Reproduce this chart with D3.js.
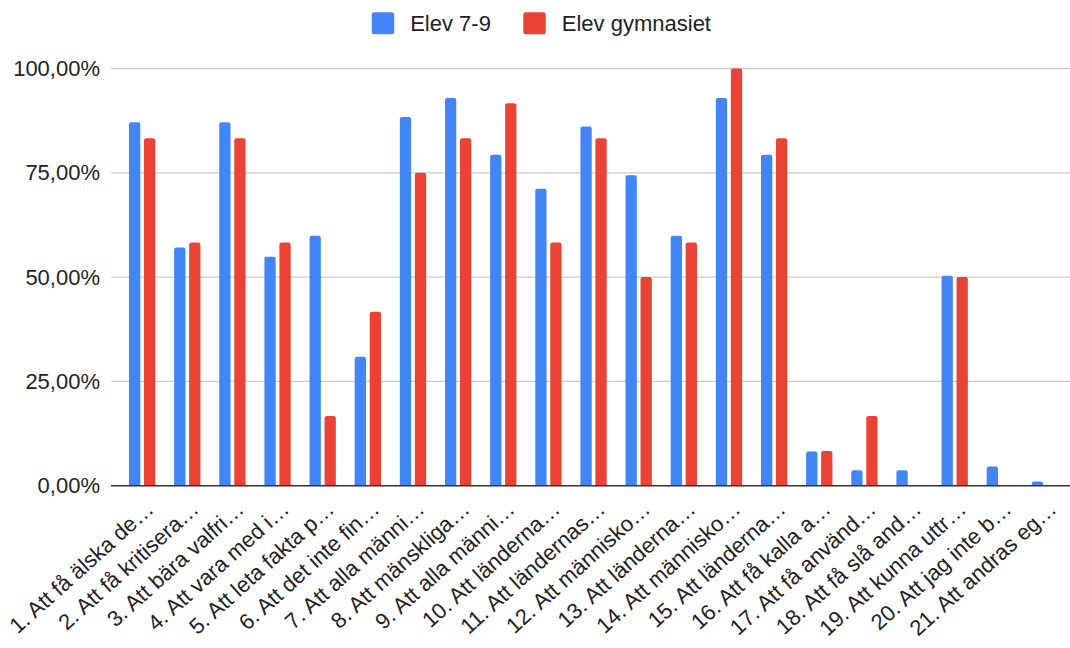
<!DOCTYPE html>
<html>
<head>
<meta charset="utf-8">
<script src="https://cdn.jsdelivr.net/npm/d3@7"></script>
<style>
  html, body { margin: 0; padding: 0; background: #fff; }
  svg { display: block; font-family: "Liberation Sans", Arial, Helvetica, sans-serif; }
</style>
</head>
<body>
<svg id="chart" width="1070" height="648"></svg>
<script>
const categories = [
  "1. Att få älska de…",
  "2. Att få kritisera…",
  "3. Att bära valfri…",
  "4. Att vara med i…",
  "5. Att leta fakta p…",
  "6. Att det inte fin…",
  "7. Att alla männi…",
  "8. Att mänskliga…",
  "9. Att alla männi…",
  "10. Att länderna…",
  "11. Att ländernas…",
  "12. Att människo…",
  "13. Att länderna…",
  "14. Att människo…",
  "15. Att länderna…",
  "16. Att få kalla a…",
  "17. Att få använd…",
  "18. Att få slå and…",
  "19. Att kunna uttr…",
  "20. Att jag inte b…",
  "21. Att andras eg…"
];
const seriesNames = ["Elev 7-9", "Elev gymnasiet"];
const elev79 = [87.1, 57.1, 87.1, 54.9, 59.9, 30.9, 88.4, 92.9, 79.3, 71.2, 86.1, 74.4, 59.9, 92.9, 79.3, 8.2, 3.7, 3.7, 50.3, 4.6, 1.0];
const elevGymnasiet = [83.3, 58.3, 83.3, 58.3, 16.7, 41.7, 75.0, 83.3, 91.7, 58.3, 83.3, 50.0, 58.3, 100.0, 83.3, 8.3, 16.7, 0, 50.0, 0, 0];
const yTicks = [0, 25, 50, 75, 100];
const colors = ["#4285F4", "#EA4335"];

const svg = d3.select("#chart");
const plotLeft = 111, plotRight = 1070;

const x = d3.scaleBand().domain(categories.map((d, i) => i)).range([119.5, 1067.5]);
const y = d3.scaleLinear().domain([0, 100]).range([485.7, 68.5]);

// gridlines
svg.append("g").selectAll("line").data(yTicks.filter(t => t !== 0)).join("line")
  .attr("x1", plotLeft).attr("x2", plotRight)
  .attr("y1", d => y(d)).attr("y2", d => y(d))
  .attr("stroke", "#cccccc").attr("stroke-width", 1.3);

// y labels
const fmt = v => d3.format(".2f")(v).replace(".", ",") + "%";
const yAxis = d3.axisLeft(y).tickValues(yTicks).tickFormat(fmt).tickSize(0).tickPadding(0);
const yg = svg.append("g").attr("transform", "translate(100,0)").call(yAxis);
yg.select(".domain").remove();
yg.selectAll("text").attr("font-size", 22).attr("fill", "#222").attr("font-family", "Liberation Sans, Arial, sans-serif");

// bars
const barW = 11.3;
const offsets = [-13.1, 1.9];
const series = [elev79, elevGymnasiet];
function barPath(x0, y0, w, h, r) {
  if (h <= 0) return "";
  r = Math.min(r, h, w / 2);
  return `M${x0},${y0 + h}V${y0 + r}Q${x0},${y0} ${x0 + r},${y0}H${x0 + w - r}Q${x0 + w},${y0} ${x0 + w},${y0 + r}V${y0 + h}Z`;
}
series.forEach((vals, s) => {
  svg.append("g").selectAll("path").data(vals).join("path")
    .attr("d", (v, i) => {
      const c = x(i) + x.bandwidth() / 2;
      const top = y(v);
      return barPath(c + offsets[s], top, barW, y(0) - top, 2.2);
    })
    .attr("fill", colors[s]);
});

// baseline axis
svg.append("line").attr("x1", plotLeft).attr("x2", plotRight)
  .attr("y1", y(0)).attr("y2", y(0)).attr("stroke", "#333").attr("stroke-width", 1.6);

// x labels
const xAxis = d3.axisBottom(x).tickFormat(i => categories[i]).tickSize(0).tickPadding(0);
const xg = svg.append("g").call(xAxis);
xg.select(".domain").remove();
xg.selectAll(".tick").attr("transform", i => `translate(${x(i) + x.bandwidth() / 2 + 13},511)`);
xg.selectAll("text")
  .attr("x", 0).attr("y", 0).attr("dy", 0)
  .attr("text-anchor", "end")
  .attr("transform", "rotate(-42)")
  .attr("font-size", 22).attr("fill", "#222")
  .attr("font-family", "Liberation Sans, Arial, sans-serif");

// legend
const legend = svg.append("g");
const legendItems = [{name: seriesNames[0], x: 371.7}, {name: seriesNames[1], x: 523.3}];
legendItems.forEach((it, i) => {
  legend.append("rect").attr("x", it.x).attr("y", 12.3).attr("width", 22.5).attr("height", 22)
    .attr("rx", 2.5).attr("fill", colors[i]);
  legend.append("text").attr("x", it.x + 38.5).attr("y", 31)
    .attr("font-size", 22).attr("fill", "#222").text(it.name);
});
</script>
</body>
</html>
